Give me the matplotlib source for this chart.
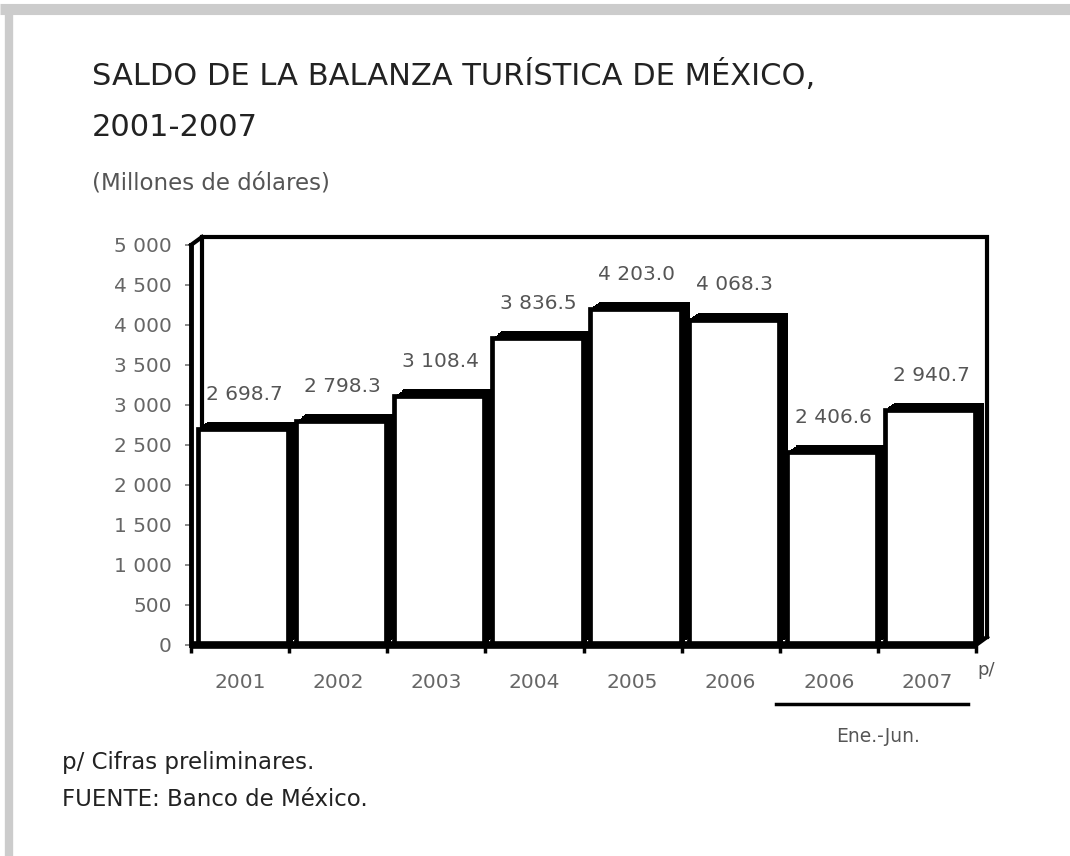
"""Saldo de la balanza turistica de Mexico, 2001-2007 (pseudo-3D bar chart)."""

import matplotlib as mpl
import matplotlib.pyplot as plt
from matplotlib.lines import Line2D
from matplotlib.ticker import FixedLocator, FuncFormatter
from matplotlib.transforms import ScaledTranslation, blended_transform_factory

YEARS = ["2001", "2002", "2003", "2004", "2005", "2006", "2006", "2007"]
VALUES = [2698.7, 2798.3, 3108.4, 3836.5, 4203.0, 4068.3, 2406.6, 2940.7]
VALUE_LABELS = ["2 698.7", "2 798.3", "3 108.4", "3 836.5",
                "4 203.0", "4 068.3", "2 406.6", "2 940.7"]
Y_TICKS = [0, 500, 1000, 1500, 2000, 2500, 3000, 3500, 4000, 4500, 5000]

TITLE_1 = "SALDO DE LA BALANZA TURÍSTICA DE MÉXICO,"
TITLE_2 = "2001-2007"
SUBTITLE = "(Millones de dólares)"
NOTE_1 = "p/ Cifras preliminares."
NOTE_2 = "FUENTE: Banco de México."
PERIOD = "Ene.-Jun."

W, H = 1070, 856
TEXT = "#222222"
GREY = "#555555"
LIGHT = "#666666"

mpl.rcParams.update({"font.family": ["DejaVu Sans"]})

fig = plt.figure(figsize=(W / 100, H / 100), dpi=100)


def px(dx, dy):
    """Offset in screen pixels."""
    return ScaledTranslation(dx / 100, dy / 100, fig.dpi_scale_trans)


# grey frame on top and left edges
fig.add_artist(Line2D([0, 1], [1 - 8.5 / H] * 2, transform=fig.transFigure,
                      color="#cccccc", linewidth=8, solid_capstyle="butt"))
fig.add_artist(Line2D([9 / W] * 2, [0, 1 - 4 / H], transform=fig.transFigure,
                      color="#cccccc", linewidth=6, solid_capstyle="butt"))

# titles and notes
fig.text(92 / W, 1 - 75 / H, TITLE_1, fontsize=22, color=TEXT, va="center")
fig.text(92 / W, 1 - 127 / H, TITLE_2, fontsize=22, color=TEXT, va="center")
fig.text(92 / W, 1 - 183 / H, SUBTITLE, fontsize=16.5, color=GREY, va="center")
fig.text(62 / W, 1 - 762 / H, NOTE_1, fontsize=16.5, color=TEXT, va="center")
fig.text(62 / W, 1 - 800 / H, NOTE_2, fontsize=16.5, color=TEXT, va="center")

ax = fig.add_axes([191 / W, 1 - 645 / H, 785 / W, 400 / H])
ax.set_xlim(-0.5, len(VALUES) - 0.5)
ax.set_ylim(0, 5000)
ax.patch.set_alpha(0)

# back wall of the 3D box, plus the two corner diagonals
ax.plot([0, 0, 1, 1], [0, 1, 1, 0], transform=ax.transAxes + px(11, 8),
        color="black", linewidth=3, solid_joinstyle="miter", clip_on=False,
        zorder=1)
ax.add_line(Line2D([0, 11 / 785], [1, 1 + 8 / 400], transform=ax.transAxes,
                   color="black", linewidth=3, clip_on=False))
ax.add_line(Line2D([1, 1 + 11 / 785], [0, 8 / 400], transform=ax.transAxes,
                   color="black", linewidth=3, clip_on=False))

xs = list(range(len(VALUES)))
# dark side/top faces: a few shifted black copies make the extrusion,
# then the white front faces go on top
for k in range(1, 7):
    shadow = ax.bar(xs, VALUES, width=0.92, color="black", linewidth=0,
                    transform=ax.transData + px(3 + 1.5 * k, 7 * k / 6),
                    zorder=2)
    for patch in shadow:
        patch.set_clip_on(False)
ax.bar(xs, VALUES, width=0.92, facecolor="white", edgecolor="black",
       linewidth=3.4, transform=ax.transData + px(3, 0), zorder=3)

for x, v, lab in zip(xs, VALUES, VALUE_LABELS):
    ax.annotate(lab, (x, v), xytext=(3, 25), textcoords="offset points",
                ha="center", va="center", fontsize=14.5, color=GREY)

# axis lines
for side in ["top", "right"]:
    ax.spines[side].set_visible(False)
ax.spines["left"].set_linewidth(3.5)
ax.spines["bottom"].set_linewidth(5.5)
ax.spines["bottom"].set_zorder(4)
ax.spines["bottom"].set_capstyle("butt")

ax.yaxis.set_major_locator(FixedLocator(Y_TICKS))
ax.yaxis.set_major_formatter(
    FuncFormatter(lambda v, _p: f"{int(v):,}".replace(",", " ")))
ax.tick_params(axis="y", direction="out", length=4, width=1.2, color="#777777",
               pad=10, labelsize=14.5, labelcolor=LIGHT)

ax.set_xticks([i - 0.5 for i in range(len(VALUES) + 1)])
ax.set_xticklabels([])
ax.set_xticks(xs, minor=True)
ax.set_xticklabels(YEARS, minor=True)
ax.tick_params(axis="x", which="major", direction="out", length=6, width=2.5)
ax.tick_params(axis="x", which="minor", length=0, pad=20, labelsize=14.5,
               labelcolor=LIGHT)

ax.annotate("p/", (1, 0), xycoords="axes fraction", xytext=(1, -18),
            textcoords="offset points", fontsize=13, color=GREY,
            ha="left", va="center")

# bracket for the January-June comparison
trans = blended_transform_factory(ax.transData, ax.transAxes)
ax.add_line(Line2D([5.46, 7.42], [-0.1475, -0.1475], transform=trans,
                   color="black", linewidth=2.5, clip_on=False))
ax.text(6.5, -0.2275, PERIOD, transform=trans, ha="center", va="center",
        fontsize=13.5, color=GREY)

fig.savefig("out.png", dpi=100, facecolor="white")
